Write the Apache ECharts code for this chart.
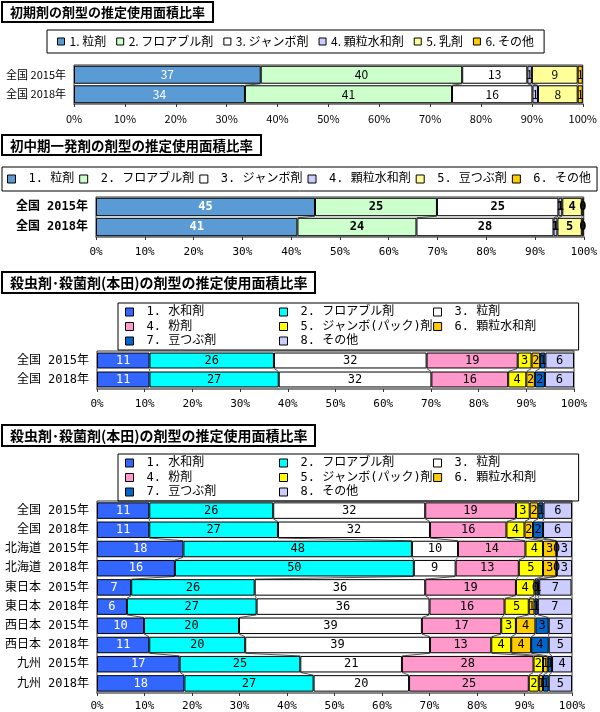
<!DOCTYPE html>
<html><head><meta charset="utf-8">
<script src="https://cdn.jsdelivr.net/npm/echarts@6/dist/echarts.min.js"></script>
<style>html,body{margin:0;padding:0;background:#fff;width:600px;height:712px;overflow:hidden}
.p{position:absolute;left:0;width:600px}</style></head>
<body>
<div id="c1" class="p" style="top:0;height:130px"></div>
<div id="c2" class="p" style="top:130px;height:135px"></div>
<div id="c3" class="p" style="top:265px;height:155px"></div>
<div id="c4" class="p" style="top:420px;height:292px"></div>
<script>
// ---------------- data ----------------
const P1_TITLE = '初期剤の剤型の推定使用面積比率';
const P1_CATEGORIES = ['全国 2015年', '全国 2018年'];
const P1_SERIES = ['1. 粒剤', '2. フロアブル剤', '3. ジャンボ剤', '4. 顆粒水和剤', '5. 乳剤', '6. その他'];
const P1_ZENKOKU_2015 = [36.7, 39.6, 12.8, 0.9, 9.0, 1.0];
const P1_ZENKOKU_2018 = [33.6, 40.7, 15.8, 1.1, 7.8, 1.0];

const P2_TITLE = '初中期一発剤の剤型の推定使用面積比率';
const P2_CATEGORIES = ['全国 2015年', '全国 2018年'];
const P2_SERIES = ['1. 粒剤', '2. フロアブル剤', '3. ジャンボ剤', '4. 顆粒水和剤', '5. 豆つぶ剤', '6. その他'];
const P2_ZENKOKU_2015 = [44.9, 25.0, 24.9, 0.8, 4.0, 0.4];
const P2_ZENKOKU_2018 = [41.3, 24.4, 28.1, 0.8, 5.0, 0.4];

const P34_TITLE = '殺虫剤･殺菌剤(本田)の剤型の推定使用面積比率';
const P34_SERIES = ['1. 水和剤', '2. フロアブル剤', '3. 粒剤', '4. 粉剤', '5. ジャンボ(パック)剤', '6. 顆粒水和剤', '7. 豆つぶ剤', '8. その他'];
const P3_CATEGORIES = ['全国 2015年', '全国 2018年'];
const P4_CATEGORIES = ['全国 2015年', '全国 2018年', '北海道 2015年', '北海道 2018年', '東日本 2015年', '東日本 2018年', '西日本 2015年', '西日本 2018年', '九州 2015年', '九州 2018年'];
const ZENKOKU_2015 = [11.0, 26.1, 32.0, 19.1, 2.9, 1.8, 1.1, 6.0];
const ZENKOKU_2018 = [11.0, 27.1, 32.0, 16.1, 3.8, 1.8, 2.1, 6.1];
const HOKKAIDO_2015 = [18.2, 48.1, 9.7, 14.2, 3.7, 2.8, 0.1, 3.2];
const HOKKAIDO_2018 = [16.4, 50.3, 8.8, 13.3, 5.1, 2.8, 0.1, 3.2];
const HIGASHI_2015 = [7.2, 26.0, 35.9, 19.1, 3.9, 0.4, 0.6, 6.8];
const HIGASHI_2018 = [6.3, 27.3, 36.4, 15.8, 5.1, 1.2, 0.7, 7.2];
const NISHI_2015 = [9.9, 20.0, 38.5, 16.7, 3.1, 4.1, 2.8, 4.9];
const NISHI_2018 = [11.0, 20.2, 38.9, 12.9, 4.2, 4.2, 3.7, 4.9];
const KYUSHU_2015 = [17.4, 25.4, 21.4, 27.7, 2.0, 1.0, 0.9, 4.2];
const KYUSHU_2018 = [18.4, 27.2, 20.1, 25.2, 2.1, 0.9, 1.2, 4.9];

const X_MIN = 0, X_MAX = 100, X_STEP = 10; // tick labels 0%..100%

// ---------------- styles ----------------
const COLORS_A = ['#5B9BD5', '#CCFFCC', '#FFFFFF', '#CCCCFF', '#FFFF99', '#FFCC00'];
const COLORS_B = ['#3366FF', '#00FFFF', '#FFFFFF', '#FF99CC', '#FFFF00', '#FFCC00', '#0066CC', '#CCCCFF'];
const JP = '"Noto Sans CJK JP", sans-serif';
const MONO = '"DejaVu Sans Mono", "Noto Sans CJK JP", monospace';

function build(el, c) {
  const rows = c.rows, names = c.names, nS = names.length;
  const gapFrac = parseFloat(c.gap) / 100;
  const series = names.map((n, k) => ({
    name: n, type: 'bar', stack: 'total', barCategoryGap: c.gap,
    data: rows.map(r => r[k]),
    itemStyle: { color: c.colors[k], borderColor: '#000', borderWidth: 1 },
    label: { show: true, position: 'inside', formatter: p => String(Math.round(p.value)),
      color: k === 0 ? '#fff' : '#000', fontSize: c.labelSize, fontFamily: c.labelFont, fontWeight: c.labelWeight || 'normal' },
    emphasis: { disabled: true }
  }));
  const conn = [];
  for (let i = 0; i < rows.length - 1; i++) {
    let a = 0, b = 0;
    for (let k = 0; k < nS - 1; k++) { a += rows[i][k]; b += rows[i + 1][k]; conn.push([a, b, i]); }
  }
  series.push({
    type: 'custom', silent: true, z: 1, data: conn, encode: { x: [0, 1], y: 2 },
    renderItem: (params, api) => {
      const i = api.value(2);
      const p1 = api.coord([api.value(0), i]);
      const p2 = api.coord([api.value(1), i + 1]);
      const h = Math.abs(api.size([0, 1])[1]) * (1 - gapFrac);
      return { type: 'line', shape: { x1: p1[0], y1: p1[1] + h / 2, x2: p2[0], y2: p2[1] - h / 2 },
        style: { stroke: '#555', lineWidth: 1 } };
    }
  });
  const chart = echarts.init(el, null, { renderer: 'canvas' });
  chart.setOption({
    animation: false,
    title: { text: c.title, left: 2, top: c.titleTop, padding: [4, 8, 3, 8], borderColor: '#000', borderWidth: 2,
      textStyle: { fontSize: c.titleSize, fontWeight: 'bold', fontFamily: JP, color: '#000' } },
    legend: Object.assign({
      data: names.map((n, k) => Object.assign({ name: n, itemStyle: { color: c.colors[k] } },
        c.legendItemText ? { textStyle: c.legendItemText(k) } : {})),
      icon: 'rect', borderColor: '#000', borderWidth: 1,
      itemStyle: { borderColor: '#000', borderWidth: 1 },
      selectedMode: false
    }, c.legend),
    grid: Object.assign({ show: true, borderColor: '#333', borderWidth: 1, containLabel: false }, c.grid),
    xAxis: { type: 'value', min: X_MIN, max: X_MAX, interval: X_STEP,
      axisLabel: { formatter: '{value}%', color: '#000', fontSize: c.axisSize, fontFamily: c.axisFont, margin: c.axisMargin, fontWeight: c.axisWeight || 'normal' },
      splitLine: { show: false },
      axisLine: { show: true, lineStyle: { color: '#888', width: 2 } },
      axisTick: { show: true, length: 3, lineStyle: { color: '#333' } } },
    yAxis: { type: 'category', data: c.cats, inverse: true,
      axisLine: { show: false }, axisTick: { show: false },
      axisLabel: { color: '#000', fontSize: c.catSize, fontFamily: c.catFont, fontWeight: c.catWeight || 'normal', margin: 8 } },
    series
  });
}

// Panel 1
build(document.getElementById('c1'), {
  title: P1_TITLE, titleTop: 2, titleSize: 13, names: P1_SERIES, colors: COLORS_A, cats: P1_CATEGORIES,
  rows: [P1_ZENKOKU_2015, P1_ZENKOKU_2018], gap: '8%',
  legend: { left: 47, top: 30, padding: [5, 10, 5, 10], itemGap: 10, itemWidth: 7, itemHeight: 7,
    textStyle: { fontSize: 12, fontFamily: JP, color: '#000', lineHeight: 13 } },
  grid: { left: 74, right: 12, top: 65, height: 39 },
  labelSize: 12, labelFont: JP, axisSize: 11, axisFont: JP, axisMargin: 9, catSize: 11, catFont: JP
});

// Panel 2
build(document.getElementById('c2'), {
  title: P2_TITLE, titleTop: 5, titleSize: 13.5, names: P2_SERIES, colors: COLORS_A, cats: P2_CATEGORIES,
  rows: [P2_ZENKOKU_2015, P2_ZENKOKU_2018], gap: '8%',
  legend: { left: 2, top: 37, width: 596, padding: [5, 6, 5, 5], itemGap: 5, itemWidth: 8, itemHeight: 8,
    textStyle: { fontSize: 12, fontFamily: MONO, color: '#000', lineHeight: 14, padding: [0, 0, 0, 8] } },
  grid: { left: 96, right: 10, top: 67, height: 40 },
  labelSize: 12, labelFont: MONO, labelWeight: 'bold', axisSize: 11, axisFont: MONO, axisMargin: 10,
  catSize: 12, catFont: MONO, catWeight: 'bold'
});

const legend34 = (top) => ({ left: 118, top: top, padding: [2, 2, 2, 7], itemGap: 0.5, itemWidth: 8, itemHeight: 8,
  textStyle: { fontSize: 12, fontFamily: MONO, color: '#000', lineHeight: 14, padding: [0, 0, 0, 8], width: 132 } });
const legendText34 = k => (k % 3 === 2 ? { width: 122 } : { width: 132 });

// Panel 3
build(document.getElementById('c3'), {
  title: P34_TITLE, titleTop: 7, titleSize: 14, names: P34_SERIES, colors: COLORS_B, cats: P3_CATEGORIES,
  rows: [ZENKOKU_2015, ZENKOKU_2018], gap: '16%',
  legend: legend34(38), legendItemText: legendText34,
  grid: { left: 97, right: 26, top: 86, height: 38 },
  labelSize: 12, labelFont: MONO, axisSize: 11, axisFont: MONO, axisMargin: 10, catSize: 12, catFont: MONO
});

// Panel 4
build(document.getElementById('c4'), {
  title: P34_TITLE, titleTop: 5, titleSize: 14, names: P34_SERIES, colors: COLORS_B, cats: P4_CATEGORIES,
  rows: [ZENKOKU_2015, ZENKOKU_2018, HOKKAIDO_2015, HOKKAIDO_2018, HIGASHI_2015, HIGASHI_2018,
         NISHI_2015, NISHI_2018, KYUSHU_2015, KYUSHU_2018], gap: '14%',
  legend: legend34(34), legendItemText: legendText34,
  grid: { left: 97, right: 28, top: 81, height: 192 },
  labelSize: 12, labelFont: MONO, axisSize: 11, axisFont: MONO, axisMargin: 8, catSize: 12, catFont: MONO
});
</script>
</body></html>
